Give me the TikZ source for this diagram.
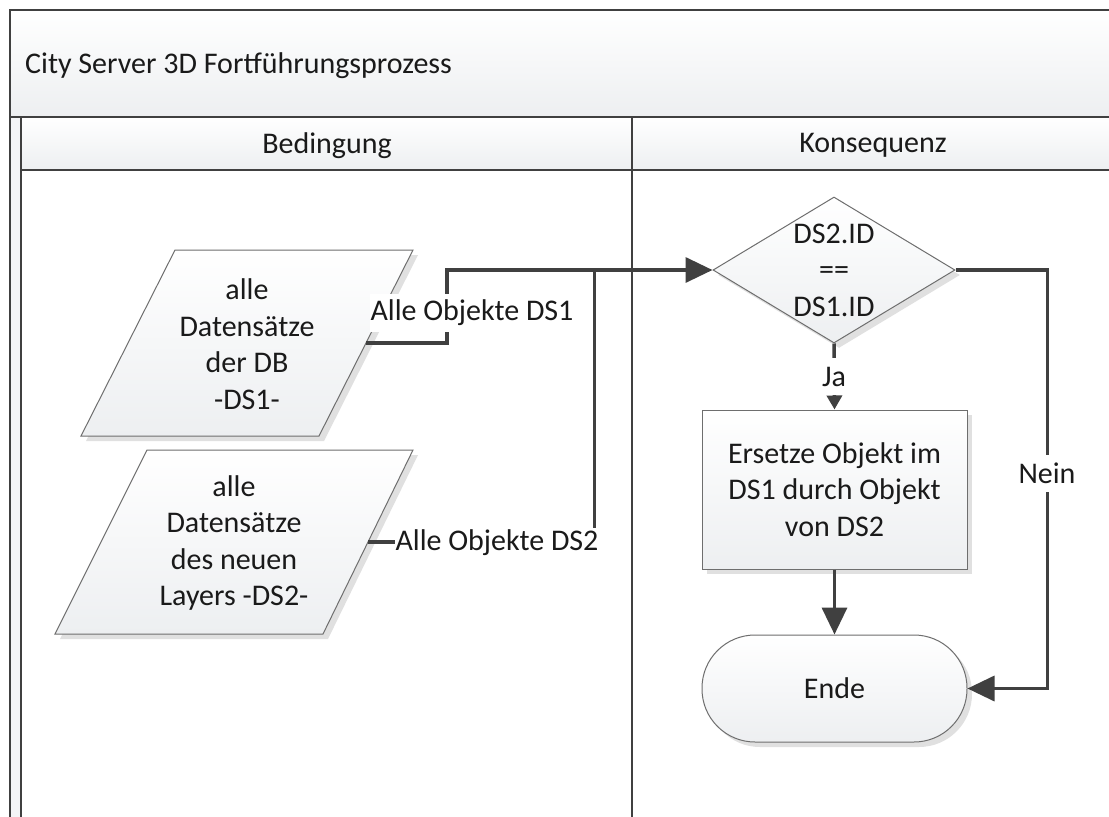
\documentclass[tikz,border=0pt]{standalone}
\usepackage{fontspec}
\setmainfont{Carlito}
\usetikzlibrary{arrows.meta,shapes.geometric,shadows,calc}
\definecolor{ln}{HTML}{404040}
\definecolor{bd}{HTML}{6E6E6E}
\definecolor{fb}{HTML}{EDEFF1}
\definecolor{tx}{HTML}{1A1A1A}
\tikzset{
  txt/.style={font=\fontsize{30}{36.5}\selectfont, text=tx, align=center, inner sep=0pt},
  shp/.style={draw=bd, line width=1pt, top color=white, bottom color=fb,
    drop shadow={shadow xshift=5pt, shadow yshift=-5pt, fill=black!12, opacity=1}},
  conn/.style={draw=ln, line width=3.5pt},
  bigtip/.style={-{Triangle[length=27pt,width=25pt]}},
  smalltip/.style={-{Triangle[length=14pt,width=15pt]}},
  frameline/.style={draw=ln, line width=2.5pt},
  lbl/.style={txt, fill=white, inner xsep=1pt, inner ysep=0pt},
}
\begin{document}
\begin{tikzpicture}[x=1pt,y=-1pt]
\useasboundingbox (0,0) rectangle (1109,817);
\clip (0,0) rectangle (1109,817);
\fill[white] (0,0) rectangle (1109,817);
% frame fills
\fill[top color=white, bottom color=fb] (10,10) rectangle (1114,117);
\fill[fb!60] (10,117) rectangle (21,817);
\fill[top color=white, bottom color=fb] (21,117) rectangle (1114,170);
% frame lines
\draw[frameline] (10,817) -- (10,10) -- (1114,10);
\draw[frameline] (10,117) -- (1114,117);
\draw[frameline] (21,817) -- (21,117);
\draw[frameline] (21,170) -- (1114,170);
\draw[frameline] (632,117) -- (632,817);
% headers
\node[txt, anchor=base west] (title) at (25,73) {City Server 3D Fortführungsprozess};
\node[txt, anchor=base] (h1) at (327,153) {Bedingung};
\node[txt, anchor=base] (h2) at (873,152) {Konsequenz};
% data shapes
\path[shp] (81,436) -- (175,250) -- (413,250) -- (319,436) -- cycle;
\node[txt] (p1) at (247,344) {alle\\Datensätze\\der DB\\-DS1-};
\coordinate (p1r) at (366,343);
\path[shp] (55,634) -- (147,450) -- (413,450) -- (323,634) -- cycle;
\node[txt] (p2) at (234,543) {alle\\Datensätze\\des neuen\\Layers -DS2-};
\coordinate (p2r) at (368,542);
% decision
\node[shp, diamond, aspect=1.657, minimum width=242pt, minimum height=146pt, inner sep=0pt] (dia) at (834,270) {};
\node[txt] (diat) at (834,270) {DS2.ID\\==\\DS1.ID};
% process
\node[shp, txt, rectangle, minimum width=265pt, minimum height=159pt] (box) at (834.5,489.5) {Ersetze Objekt im\\DS1 durch Objekt\\von DS2};
% terminator
\node[shp, txt, rectangle, rounded corners=53pt, minimum width=265pt, minimum height=107pt] (ende) at (834.5,688.5) {Ende};
% connectors
\draw[conn, bigtip] (p1r) -- ++(81,0) |- (dia.west);
\draw[conn] (p2r) -| ($(dia.west)+(-118,0)$);
\draw[conn, smalltip] (dia.south) -- (box.north);
\draw[conn, bigtip] (box.south) -- (ende.north);
\draw[conn, bigtip] (dia.east) -- ++(92,0) |- (ende.east);
% labels
\node[lbl, minimum height=37pt] (ja) at (834,376.5) {Ja};
\node[lbl, minimum height=37pt] (nein) at (1047,473) {Nein};
\node[lbl, minimum height=38pt] (l1) at (472,313) {Alle Objekte DS1};
\node[lbl, minimum height=30pt] (l2) at (497,543) {Alle Objekte DS2};
\end{tikzpicture}
\end{document}
